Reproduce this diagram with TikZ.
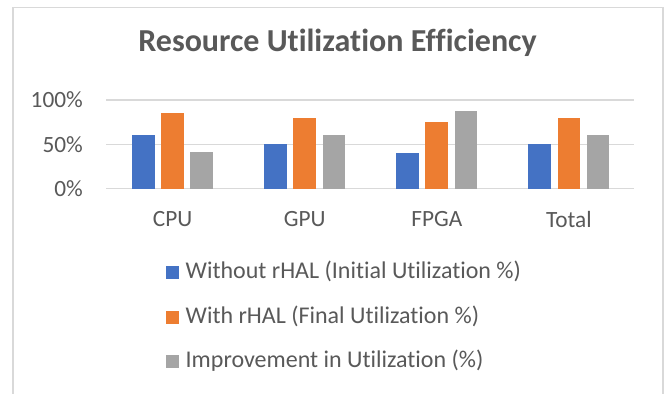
\documentclass[tikz,border=0pt]{standalone}
\usepackage{fontspec}
\setmainfont[Ligatures={NoCommon,NoContextual}]{Carlito}
\definecolor{txt}{HTML}{595959}
\definecolor{grid}{HTML}{D9D9D9}
\definecolor{frame}{HTML}{D9D9D9}
\definecolor{cblue}{HTML}{4472C4}
\definecolor{corange}{HTML}{ED7D31}
\definecolor{cgray}{HTML}{A5A5A5}
\begin{document}
\begin{tikzpicture}[x=1pt,y=-1pt,
  lbl/.style={text=txt,font=\fontsize{23.3}{26}\selectfont,inner sep=0pt},
  ticklbl/.style={lbl,anchor=east},
  catlbl/.style={lbl,anchor=center},
  leglbl/.style={lbl,font=\fontsize{24}{27}\selectfont,anchor=west},
  gridline/.style={draw=grid,line width=1.2pt},
  keybox/.style={minimum width=13pt,minimum height=13pt,inner sep=0pt,anchor=center}]
\useasboundingbox (0,0) rectangle (665,394);
\fill[white] (0,0) rectangle (665,394);
% chart frame
\draw[draw=frame,line width=1.5pt] (13,400) -- (13,7.5) -- (663,7.5) -- (663,400);
% title
\node[text=txt,font=\fontsize{32}{35}\selectfont\bfseries,inner sep=0pt] (title) at (337.5,43) {Resource Utilization Efficiency};
% gridlines
\draw[gridline] (106,100) -- (634.3,100);
\draw[gridline] (106,144.35) -- (634.3,144.35);
\draw[gridline] (106,188.7) -- (634.3,188.7);
% tick labels
\node[ticklbl] (t100) at (83,100) {100\%};
\node[ticklbl] (t50) at (83,144.35) {50\%};
\node[ticklbl] (t0) at (83,188.7) {0\%};
% bars
\def\bw{22.7}
\foreach \c/\a/\b/\g in {172.6/0.60/0.85/0.4167, 304.7/0.50/0.80/0.60, 436.8/0.40/0.75/0.875, 568.9/0.50/0.80/0.60}{
  \fill[cblue]   ({\c-29.2-\bw/2},188.7) rectangle ({\c-29.2+\bw/2},{188.7-88.7*\a});
  \fill[corange] ({\c-\bw/2},188.7) rectangle ({\c+\bw/2},{188.7-88.7*\b});
  \fill[cgray]   ({\c+29.2-\bw/2},188.7) rectangle ({\c+29.2+\bw/2},{188.7-88.7*\g});
}
% category labels
\node[catlbl] (cpu) at (172.6,219) {CPU};
\node[catlbl] (gpu) at (304.7,219) {GPU};
\node[catlbl] (fpga) at (436.8,219) {FPGA};
\node[catlbl] (total) at (568.9,219) {Total};
% legend
\node[keybox,fill=cblue] (k1) at (172,272.5) {};
\node[keybox,fill=corange] (k2) at (172,317) {};
\node[keybox,fill=cgray] (k3) at (172,361.5) {};
\node[leglbl] (l1) at (185.5,271.5) {Without rHAL (Initial Utilization \%)};
\node[leglbl] (l2) at (185.5,316) {With rHAL (Final Utilization \%)};
\node[leglbl] (l3) at (185.5,360.5) {Improvement in Utilization (\%)};
\end{tikzpicture}
\end{document}
